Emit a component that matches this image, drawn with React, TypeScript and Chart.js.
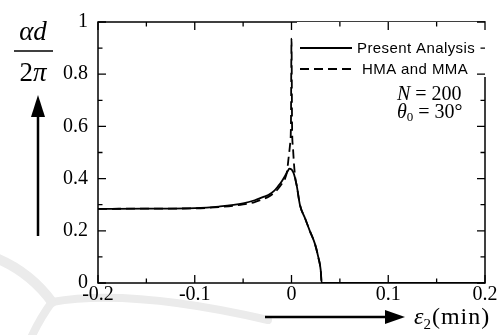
import { useEffect, useRef } from "react";
import { Chart, registerables } from "chart.js";

Chart.register(...registerables);

// Normalised propagation constant versus strain, two models
const solidX = [-0.2, -0.15, -0.1, -0.075, -0.05, -0.038, -0.029, -0.024, -0.018, -0.0136, -0.01, -0.0067, -0.004, -0.0023, 0.002, 0.0054, 0.0088, 0.014, 0.019, 0.0243, 0.0277, 0.0302, 0.0312, 0.2];
const solidY = [0.284, 0.285, 0.287, 0.293, 0.305, 0.317, 0.33, 0.337, 0.353, 0.372, 0.39, 0.41, 0.428, 0.438, 0.423, 0.373, 0.298, 0.248, 0.199, 0.149, 0.099, 0.049, 0, 0];

const dashedX = [-0.2, -0.15, -0.1, -0.075, -0.05, -0.038, -0.029, -0.024, -0.018, -0.0136, -0.01, -0.0067, -0.0045, -0.0033, -0.0015, -0.0006, 0, 0.0006, 0.0015, 0.0025, 0.004, 0.0054, 0.0088, 0.014, 0.019, 0.0243, 0.0277, 0.0302, 0.0312, 0.2];
const dashedY = [0.284, 0.285, 0.286, 0.291, 0.301, 0.31, 0.322, 0.33, 0.345, 0.362, 0.38, 0.4, 0.43, 0.47, 0.53, 0.6, 0.936, 0.6, 0.52, 0.46, 0.4, 0.373, 0.298, 0.248, 0.199, 0.149, 0.099, 0.049, 0, 0];

const seriesNames = ["Present Analysis", "HMA and MMA"];

const xTickLabels = ["-0.2", "-0.1", "0", "0.1", "0.2"];
const yTickLabels = ["0", "0.2", "0.4", "0.6", "0.8", "1"];
const xMajorTicks = [-0.2, -0.1, 0, 0.1, 0.2];
const xMinorTicks = [-0.15, -0.05, 0.05, 0.15];
const yMajorTicks = [0, 0.2, 0.4, 0.6, 0.8, 1];
const yMinorTicks = [0.1, 0.3, 0.5, 0.7, 0.9];

const paramN = "200";
const paramTheta = "30°";

const SERIF = '"Liberation Serif", "Times New Roman", serif';
const SANS = '"Liberation Sans", Arial, sans-serif';

const decorPlugin = {
  id: "decor",
  beforeDraw(chart: any) {
    const ctx = chart.ctx as CanvasRenderingContext2D;
    ctx.save();
    ctx.strokeStyle = "#ebebeb";
    ctx.lineCap = "round";
    ctx.lineWidth = 10;
    ctx.beginPath();
    ctx.moveTo(-4, 258);
    ctx.quadraticCurveTo(30, 272, 52, 302);
    ctx.stroke();
    ctx.lineWidth = 8;
    ctx.beginPath();
    ctx.moveTo(52, 302);
    ctx.quadraticCurveTo(130, 288, 268, 320);
    ctx.stroke();
    ctx.beginPath();
    ctx.moveTo(52, 302);
    ctx.quadraticCurveTo(40, 318, 30, 340);
    ctx.stroke();
    ctx.restore();
  },
  afterDatasetsDraw(chart: any) {
    const ctx = chart.ctx as CanvasRenderingContext2D;
    const area = chart.chartArea;
    const xs = chart.scales.x;
    const ys = chart.scales.y;
    ctx.save();

    // frame
    ctx.strokeStyle = "#000";
    ctx.lineWidth = 1.5;
    ctx.strokeRect(area.left, area.top, area.right - area.left, area.bottom - area.top);

    // legend backdrop (hides the right border behind it)
    ctx.fillStyle = "#fff";
    ctx.fillRect(297, 22, 192, 55);

    // inward tick marks on all four sides
    ctx.lineWidth = 1.3;
    const tickX = (v: number, len: number) => {
      const px = xs.getPixelForValue(v);
      ctx.beginPath();
      ctx.moveTo(px, area.bottom);
      ctx.lineTo(px, area.bottom - len);
      ctx.moveTo(px, area.top);
      ctx.lineTo(px, area.top + len);
      ctx.stroke();
    };
    const tickY = (v: number, len: number) => {
      const py = ys.getPixelForValue(v);
      ctx.beginPath();
      ctx.moveTo(area.left, py);
      ctx.lineTo(area.left + len, py);
      ctx.moveTo(area.right, py);
      ctx.lineTo(area.right - len, py);
      ctx.stroke();
    };
    xMajorTicks.forEach((v) => tickX(v, 8));
    xMinorTicks.forEach((v) => tickX(v, 4.5));
    yMajorTicks.forEach((v) => tickY(v, 8));
    yMinorTicks.forEach((v) => tickY(v, 4.5));

    // legend
    ctx.textBaseline = "middle";
    ctx.textAlign = "left";
    ctx.font = `15px ${SANS}`;
    (ctx as any).letterSpacing = "0.4px";
    chart.data.datasets.forEach((ds: any, i: number) => {
      const y = 48 + i * 21;
      ctx.strokeStyle = "#000";
      ctx.lineWidth = ds.borderWidth;
      ctx.setLineDash(ds.borderDash || []);
      ctx.beginPath();
      ctx.moveTo(300, y);
      ctx.lineTo(352, y);
      ctx.stroke();
      ctx.setLineDash([]);
      ctx.fillStyle = "#000";
      ctx.fillText(ds.label, i === 0 ? 357 : 362, y + 1);
    });
    (ctx as any).letterSpacing = "0px";

    // parameters
    ctx.textBaseline = "alphabetic";
    ctx.fillStyle = "#000";
    let x = 397;
    ctx.font = `italic 20px ${SERIF}`;
    ctx.fillText("N", x, 100);
    x += ctx.measureText("N").width;
    ctx.font = `20px ${SERIF}`;
    ctx.fillText(" = " + paramN, x, 100);

    x = 397;
    ctx.font = `italic 20px ${SERIF}`;
    ctx.fillText("θ", x, 118);
    x += ctx.measureText("θ").width;
    ctx.font = `13px ${SERIF}`;
    ctx.fillText("0", x, 121);
    x += ctx.measureText("0").width;
    ctx.font = `20px ${SERIF}`;
    ctx.fillText(" = " + paramTheta, x, 118);

    // y-axis title: alpha d over 2 pi, with upward arrow
    ctx.textAlign = "center";
    ctx.font = `italic 27px ${SERIF}`;
    ctx.fillText("αd", 33, 40);
    ctx.lineWidth = 1.5;
    ctx.beginPath();
    ctx.moveTo(14, 51);
    ctx.lineTo(53, 51);
    ctx.stroke();
    ctx.textAlign = "left";
    ctx.font = `27px ${SERIF}`;
    const w2 = ctx.measureText("2").width;
    ctx.font = `italic 27px ${SERIF}`;
    const wpi = ctx.measureText("π").width;
    const startX = 33 - (w2 + wpi) / 2;
    ctx.font = `27px ${SERIF}`;
    ctx.fillText("2", startX, 81);
    ctx.font = `italic 27px ${SERIF}`;
    ctx.fillText("π", startX + w2, 81);

    ctx.lineWidth = 2.5;
    ctx.beginPath();
    ctx.moveTo(38, 236);
    ctx.lineTo(38, 112);
    ctx.stroke();
    ctx.beginPath();
    ctx.moveTo(38, 95);
    ctx.lineTo(31, 117);
    ctx.lineTo(45, 117);
    ctx.closePath();
    ctx.fill();

    // x-axis title with rightward arrow
    ctx.beginPath();
    ctx.moveTo(265, 317);
    ctx.lineTo(390, 317);
    ctx.stroke();
    ctx.beginPath();
    ctx.moveTo(405, 317);
    ctx.lineTo(385, 310);
    ctx.lineTo(385, 324);
    ctx.closePath();
    ctx.fill();

    x = 414;
    ctx.font = `italic 24px ${SERIF}`;
    ctx.fillText("ε", x, 324);
    x += ctx.measureText("ε").width;
    ctx.font = `15px ${SERIF}`;
    ctx.fillText("2", x, 329);
    x += ctx.measureText("2").width + 1;
    ctx.font = `24px ${SERIF}`;
    (ctx as any).letterSpacing = "1px";
    ctx.fillText("(min)", x, 324);
    (ctx as any).letterSpacing = "0px";

    ctx.restore();
  },
};

export default function App() {
  const canvasRef = useRef<HTMLCanvasElement | null>(null);

  useEffect(() => {
    const canvas = canvasRef.current;
    if (!canvas) return;
    const chart = new Chart(canvas, {
      type: "line",
      data: {
        datasets: [
          {
            label: seriesNames[0],
            data: solidX.map((x, i) => ({ x, y: solidY[i] })),
            borderColor: "#000",
            borderWidth: 1.8,
            pointRadius: 0,
            cubicInterpolationMode: "monotone",
            fill: false,
          },
          {
            label: seriesNames[1],
            data: dashedX.map((x, i) => ({ x, y: dashedY[i] })),
            borderColor: "#000",
            borderWidth: 1.8,
            borderDash: [9, 5],
            pointRadius: 0,
            cubicInterpolationMode: "monotone",
            fill: false,
          },
        ],
      },
      options: {
        animation: false,
        responsive: true,
        maintainAspectRatio: false,
        layout: { padding: { top: 16, right: 18, left: 0, bottom: 0 }, autoPadding: false },
        plugins: { legend: { display: false }, tooltip: { enabled: false } },
        scales: {
          x: {
            type: "linear",
            min: -0.2,
            max: 0.2,
            grid: { display: false, drawTicks: false },
            border: { display: false },
            ticks: {
              stepSize: 0.1,
              maxRotation: 0,
              autoSkip: false,
              padding: 0,
              color: "#000",
              font: { family: SERIF, size: 20 },
              callback: (_v: any, i: number) => xTickLabels[i],
            },
            afterFit: (s: any) => {
              s.height = 52;
            },
          },
          y: {
            type: "linear",
            min: 0,
            max: 1,
            grid: { display: false, drawTicks: false },
            border: { display: false },
            ticks: {
              stepSize: 0.2,
              autoSkip: false,
              padding: 10,
              color: "#000",
              font: { family: SERIF, size: 20 },
              callback: (_v: any, i: number) => yTickLabels[i],
            },
            afterFit: (s: any) => {
              s.width = 98;
            },
          },
        },
      },
      plugins: [decorPlugin],
    });
    return () => chart.destroy();
  }, []);

  return (
    <div style={{ position: "fixed", left: 0, top: 0, width: 503, height: 335, background: "#fff" }}>
      <canvas ref={canvasRef} />
    </div>
  );
}
